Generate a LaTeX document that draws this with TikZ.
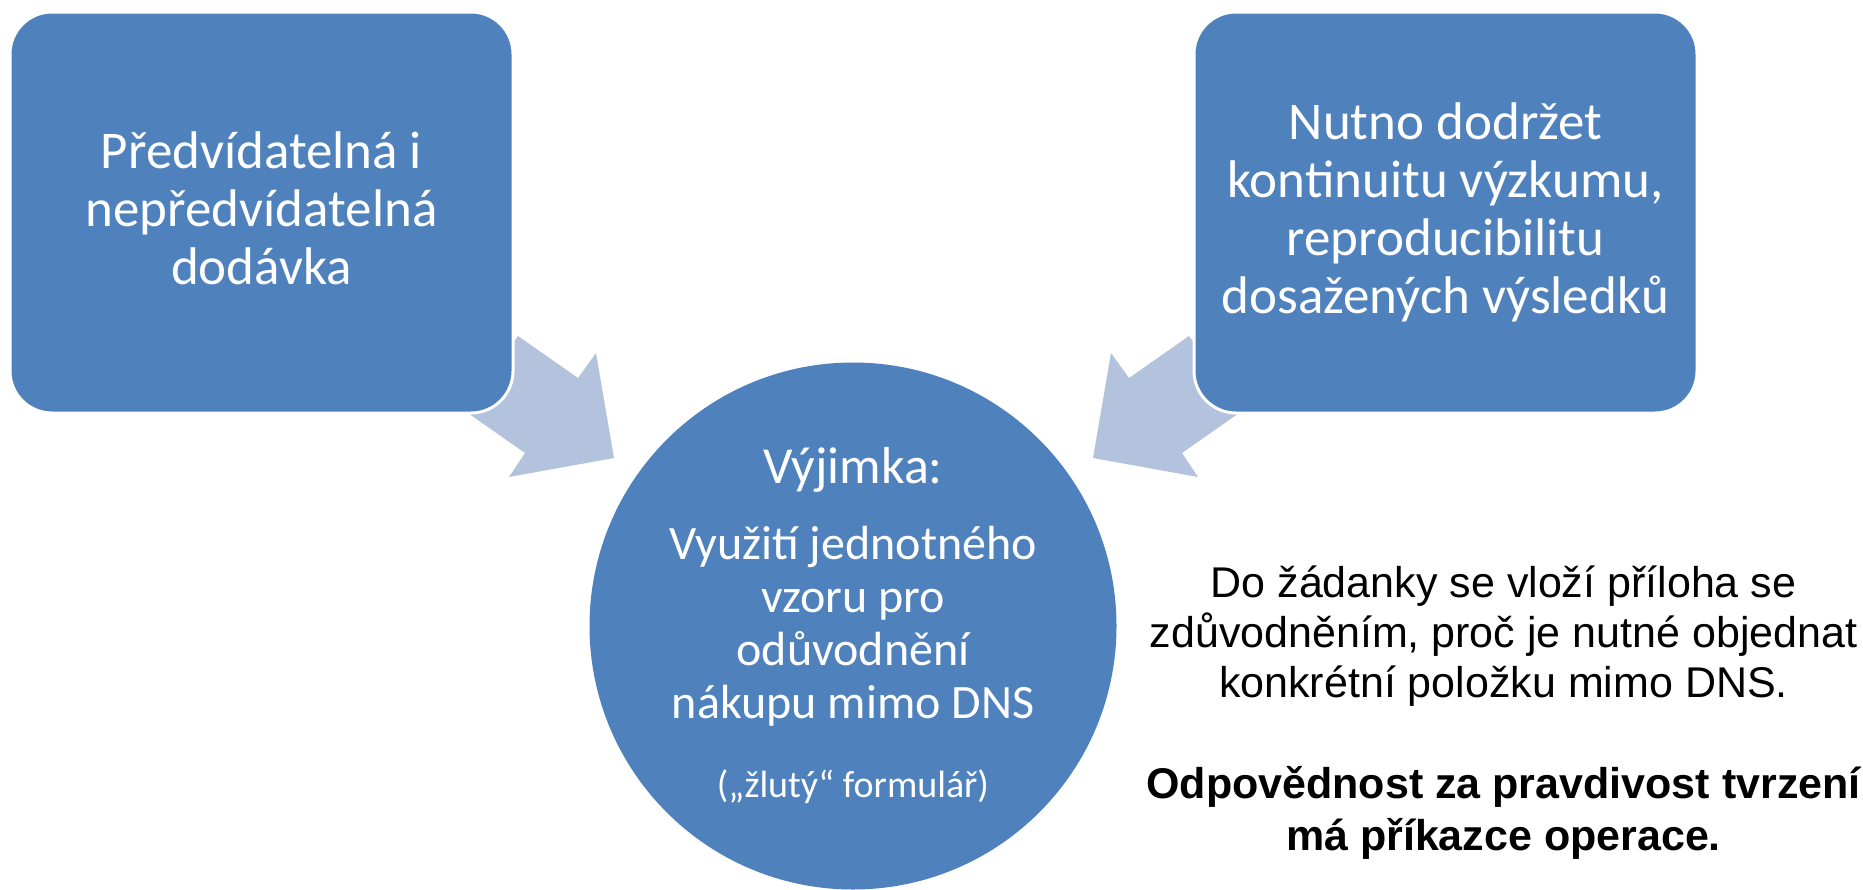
\documentclass[tikz,border=0pt]{standalone}
\usepackage{fontspec}
\setmainfont{Carlito}
\newfontfamily\arialfont{Liberation Sans}
\definecolor{boxblue}{RGB}{79,129,189}
\definecolor{arrowblue}{RGB}{179,194,221}
\begin{document}
\begin{tikzpicture}[x=1pt,y=-1pt,
  blockbox/.style={draw=white, line width=3pt, fill=boxblue, rounded corners=42pt,
    minimum width=503pt, minimum height=401pt, inner sep=0pt},
  hubcircle/.style={circle, draw=none, fill=boxblue, minimum size=527pt, inner sep=0pt},
  boxtext/.style={text=white, align=center, anchor=base, inner sep=0pt, font=\fontsize{53}{58}\selectfont},
  hubtext/.style={text=white, align=center, anchor=base, inner sep=0pt},
  notetext/.style={text=black, align=center, anchor=base, inner sep=0pt},
  blockarrow/.style={fill=arrowblue, draw=none}]
\useasboundingbox (0,0) rectangle (1863,889);
% block arrows (drawn first, boxes overlap their tails)
\fill[blockarrow] (518,336) -- (578,378) -- (596,353) -- (614,458) -- (509,477) -- (525,453) -- (465,411) -- cycle;
\fill[blockarrow] (1189,336) -- (1129,378) -- (1111,353) -- (1093,458) -- (1198,477) -- (1182,453) -- (1242,411) -- cycle;
% boxes
\node[blockbox] (lbox) at (261.5,212.5) {};
\node[blockbox] (rbox) at (1445.5,212.5) {};
\node[boxtext] (ltext) at (261.5,284) {Předvídatelná i\\nepředvídatelná\\dodávka};
\node[boxtext] (rtext) at (1445.5,313) {Nutno dodržet\\kontinuitu výzkumu,\\reproducibilitu\\dosažených výsledků};
% hub
\node[hubcircle] (hub) at (853,626) {};
\node[hubtext, font=\fontsize{52}{58}\selectfont] (hubtitle) at (853,483) {Výjimka:};
\node[hubtext, font=\fontsize{48}{53}\selectfont] (hubbody) at (853,718) {Využití jednotného\\vzoru pro\\odůvodnění\\nákupu mimo DNS};
\node[hubtext, font=\fontsize{38}{44}\selectfont] (hubnote) at (853,797) {(„žlutý“ formulář)};
% note text
\node[notetext, font=\arialfont\fontsize{43}{50}\selectfont] (note) at (1503.5,697) {Do žádanky se vloží příloha se\\zdůvodněním, proč je nutné objednat\\konkrétní položku mimo DNS.};
\node[notetext, font=\arialfont\bfseries\fontsize{43}{52}\selectfont] (resp) at (1503.5,850) {Odpovědnost za pravdivost tvrzení\\má příkazce operace.};
\end{tikzpicture}
\end{document}
